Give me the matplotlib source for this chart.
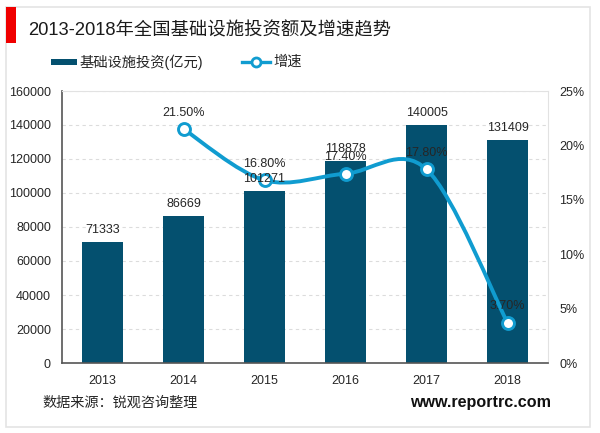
import matplotlib
matplotlib.use('Agg')
import matplotlib.pyplot as plt
from matplotlib.patches import Rectangle, PathPatch
from matplotlib.path import Path

plt.rcParams['font.family'] = ['Liberation Sans', 'Noto Sans CJK SC', 'DejaVu Sans']

years = ['2013', '2014', '2015', '2016', '2017', '2018']
invest = [71333, 86669, 101271, 118878, 140005, 131409]
growth_years = [1, 2, 3, 4, 5]
growth = [21.5, 16.8, 17.4, 17.8, 3.7]
growth_labels = ['21.50%', '16.80%', '17.40%', '17.80%', '3.70%']

W, H = 600, 433
BAR = '#04506f'
LINE = '#109cd0'
TEXT = '#262626'

fig = plt.figure(figsize=(W / 100, H / 100), dpi=100)


def px_axes(x0, y0, x1, y1):
    return fig.add_axes([x0 / W, 1 - y1 / H, (x1 - x0) / W, (y1 - y0) / H])


# page furniture, kept under the axes
fig.add_artist(Rectangle((6 / W, 1 - 427 / H), 584 / W, 420 / H, transform=fig.transFigure,
                         fc='white', ec='#e4e4e4', lw=1.2, zorder=-2))
fig.add_artist(Rectangle((6 / W, 1 - 43 / H), 10 / W, 36 / H, transform=fig.transFigure,
                         fc='#f00000', ec='none', zorder=-1))
fig.text(28 / W, 1 - 31 / H, '2013-2018年全国基础设施投资额及增速趋势', fontsize=13.2,
         color='#1a1a1a', va='center')

ax = px_axes(62, 91, 548, 363)
ax.patch.set_alpha(0)
xs = list(range(len(years)))
ax.bar(xs, invest, width=0.5, color=BAR, zorder=2)
ax.set_xlim(-0.5, 5.5)
ax.set_ylim(0, 160000)
ax.set_yticks(range(0, 160001, 20000))
ax.set_xticks(xs, years)
ax.tick_params(length=0, labelsize=9, labelcolor=TEXT, pad=9)
ax.tick_params(axis='y', pad=8)
ax.grid(axis='y', color='#dcdcdc', ls=(0, (3, 3)), lw=0.8, zorder=0)
ax.set_axisbelow(True)
for side in ['top', 'right']:
    ax.spines[side].set_color('#e2e2e2')
for side in ['left', 'bottom']:
    ax.spines[side].set_color('#555555')
    ax.spines[side].set_linewidth(1.2)

ax2 = ax.twinx()
ax2.set_ylim(0, 25)
ax2.set_yticks(range(0, 26, 5), [f'{v}%' for v in range(0, 26, 5)])
ax2.tick_params(length=0, labelsize=9, labelcolor=TEXT, pad=8)
for spine in ax2.spines.values():
    spine.set_visible(False)

# bar labels go on ax2 so they sit above the line markers
for x, v in zip(xs, invest):
    ax2.annotate(str(v), (x, v), xycoords=ax.transData, xytext=(0, 4), textcoords='offset points',
                 ha='center', va='bottom', fontsize=9, color=TEXT, zorder=5)

# smoothed line through the points, same look as an Excel smooth series
verts = [(growth_years[0], growth[0])]
codes = [Path.MOVETO]
n = len(growth)
for i in range(n - 1):
    p0 = (growth_years[max(i - 1, 0)], growth[max(i - 1, 0)])
    p1 = (growth_years[i], growth[i])
    p2 = (growth_years[i + 1], growth[i + 1])
    p3 = (growth_years[min(i + 2, n - 1)], growth[min(i + 2, n - 1)])
    c1 = (p1[0] + (p2[0] - p0[0]) / 6, p1[1] + (p2[1] - p0[1]) / 6)
    c2 = (p2[0] - (p3[0] - p1[0]) / 6, p2[1] - (p3[1] - p1[1]) / 6)
    verts += [c1, c2, p2]
    codes += [Path.CURVE4] * 3
ax2.add_patch(PathPatch(Path(verts, codes), fc='none', ec=LINE, lw=2.8, zorder=3))
ax2.plot(growth_years, growth, ls='none', marker='o', ms=8.6, mfc='white', mec=LINE, mew=2.1, zorder=4)

for x, v, lab in zip(growth_years, growth, growth_labels):
    ax2.annotate(lab, (x, v), xytext=(0, 7.5), textcoords='offset points', ha='center',
                 va='bottom', fontsize=9, color=TEXT, zorder=5)

# legend drawn by hand to hit the reference spacing
fig.add_artist(Rectangle((51 / W, 1 - 65 / H), 26 / W, 6 / H, transform=fig.transFigure,
                         fc=BAR, ec='none'))
fig.text(80 / W, 1 - 62 / H, '基础设施投资(亿元)', fontsize=10.3, color=TEXT, va='center')
fig.add_artist(plt.Line2D([242 / W, 270 / W], [1 - 62 / H] * 2, transform=fig.transFigure,
                          color=LINE, lw=2.4))
fig.add_artist(plt.Line2D([256 / W], [1 - 62 / H], transform=fig.transFigure, color=LINE, ls='none',
                          marker='o', ms=6.5, mfc='white', mec=LINE, mew=2))
fig.text(273 / W, 1 - 62 / H, '增速', fontsize=10.3, color=TEXT, va='center')

fig.text(42 / W, 1 - 403 / H, '数据来源：锐观咨询整理', fontsize=10.2, color=TEXT, va='center')
fig.text(551 / W, 1 - 403 / H, 'www.reportrc.com', fontsize=11.6, fontweight='bold', color='#111111',
         va='center', ha='right')

fig.savefig('out.png', dpi=100)
plt.close(fig)
